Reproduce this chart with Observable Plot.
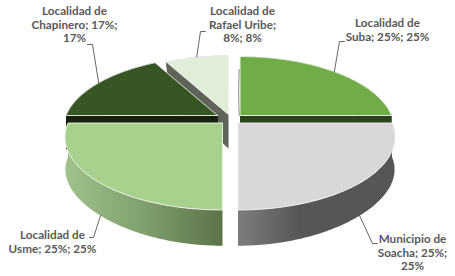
<!DOCTYPE html>
<html>
<head>
<meta charset="utf-8">
<script src="https://cdn.jsdelivr.net/npm/d3@7"></script>
<script src="https://cdn.jsdelivr.net/npm/@observablehq/plot@0.6"></script>
<style>html,body{margin:0;padding:0;background:#fff}svg{display:block}</style>
</head>
<body>
<div id="chart"></div>
<script>
// Data
const names = ["Localidad de Suba", "Municipio de Soacha", "Localidad de Usme", "Localidad de Chapinero", "Localidad de Rafael Uribe"];
const shares = [25, 25, 25, 17, 8];
const labelLines = [
  ["Localidad de", "Suba; 25%; 25%"],
  ["Municipio de", "Soacha; 25%;", "25%"],
  ["Localidad de", "Usme; 25%; 25%"],
  ["Localidad de", "Chapinero; 17%;", "17%"],
  ["Localidad de", "Rafael Uribe;", "8%; 8%"]
];

// Styles
const topColors = ["#70ad47", "#d8d8d8", "#a9d18e", "#375623", "#e0edd8"];
const sideColors = ["#2b431b", "url(#sideSoacha)", "url(#sideUsme)", "#141f0c", "#5f6458"];

// Layout: exploded slice centres and radii, perspective and extrusion of the pie
const centers = [[239.5, 115, 151.5], [237.5, 122.5, 154], [222, 122.5, 154.5], [217, 115, 151.5], [228, 114, 151.5]];
const k = 0.192, c = 70.3, depth = 34, shrink = 0.07, sy = 1.02;
const labelAt = [[387, 23], [412, 239], [52, 235], [74, 11], [242, 11]];
const bends = [[[339, 41], [344, 41]], [[372, 243], [377, 243]], [[93, 237], [89, 237]], [[92, 44], [87, 44]], [[200, 31], [205, 31]]];
const lineGap = 13.6;

const slices = d3.pie().sort(null).value(d => d)(shares);

function rim(i, t) {
  const [cx, cy, R] = centers[i];
  const d = 1 + k * Math.cos(t);
  return [cx + R * Math.sin(t) / d, cy - c * Math.cos(t) / d];
}
function dropRim(i, t) {
  const [cx, cy] = centers[i];
  const p = rim(i, t);
  const sx = 1 - shrink * Math.cos(t) ** 2;
  return [cx + (p[0] - cx) * sx, cy + (p[1] - cy) * sy + depth];
}
function angles(i) {
  const {startAngle: a, endAngle: b} = slices[i];
  const n = Math.max(8, Math.ceil((b - a) * 60));
  return d3.range(n + 1).map(j => a + (b - a) * j / n);
}
const apex = i => [centers[i][0], centers[i][1]];
const dropApex = i => [centers[i][0], centers[i][1] + depth];
const topFace = i => [apex(i), ...angles(i).map(t => rim(i, t)), apex(i)];
const outerSide = i => {
  const ts = angles(i);
  return [...ts.map(t => rim(i, t)), ...ts.slice().reverse().map(t => dropRim(i, t)), rim(i, ts[0])];
};
const radialFace = (i, t) => [apex(i), rim(i, t), dropRim(i, t), dropApex(i), apex(i)];

const poly = (pts, fill, stroke = "none", sw = 0) =>
  Plot.line(pts, {x: d => d[0], y: d => d[1], fill, stroke, strokeWidth: sw, curve: "linear"});

// Back to front
const order = [4, 0, 3, 2, 1];
const sliceMarks = order.flatMap(i => {
  const s = slices[i];
  return [
    poly(radialFace(i, s.startAngle), sideColors[i]),
    poly(radialFace(i, s.endAngle), sideColors[i]),
    poly(outerSide(i), sideColors[i]),
    poly(topFace(i), topColors[i], "#f1f4ee", 0.9)
  ];
});

// Thin sliver of the Suba inner wall, seen just left of its top face
const subaWall = [[-0.8, -46], [-1.6, -22], [-0.8, 0]].map(([dx, dy]) => [centers[0][0] + dx, centers[0][1] + dy]);

// Leaders start on the rim at the middle of each slice
const leaders = slices.map((s, i) => {
  const mid = (s.startAngle + s.endAngle) / 2;
  const start = Math.cos(mid) < -0.2 ? dropRim(i, mid) : rim(i, mid);
  return [start, ...bends[i]];
});

const labelRows = labelLines.flatMap((rows, i) =>
  rows.map((text, j) => ({text, x: labelAt[i][0], y: labelAt[i][1] + j * lineGap})));

const defs = () => {
  const d = d3.create("svg:defs");
  const grad = (id, x1, x2, stops) => {
    const g = d.append("linearGradient").attr("id", id).attr("gradientUnits", "userSpaceOnUse")
      .attr("x1", x1).attr("x2", x2).attr("y1", 0).attr("y2", 0);
    stops.forEach(([o, col]) => g.append("stop").attr("offset", o).attr("stop-color", col));
  };
  grad("sideUsme", 66, 222, [[0, "#a0c18a"], [0.5, "#7f9f6c"], [1, "#5c7349"]]);
  grad("sideSoacha", 238, 300, [[0, "#7c7c7c"], [1, "#565656"]]);
  return d.node();
};

const chart = Plot.plot({
  width: 455,
  height: 276,
  margin: 0,
  x: {domain: [0, 455], range: [0, 455], axis: null},
  y: {domain: [0, 276], range: [0, 276], axis: null},
  marks: [
    defs,
    ...sliceMarks,
    Plot.line(subaWall, {x: d => d[0], y: d => d[1], stroke: "#6a6a6a", strokeWidth: 0.8, curve: "basis"}),
    ...leaders.map(l => Plot.line(l, {x: d => d[0], y: d => d[1], stroke: "#404040", strokeWidth: 0.8})),
    Plot.text(labelRows, {
      x: "x", y: "y", text: "text", textAnchor: "middle",
      fill: "#595959", fontFamily: "Lato", fontWeight: 700, fontSize: 11.7
    })
  ]
});
chart.style.background = "#fff";
document.getElementById("chart").append(chart);
</script>
</body>
</html>
